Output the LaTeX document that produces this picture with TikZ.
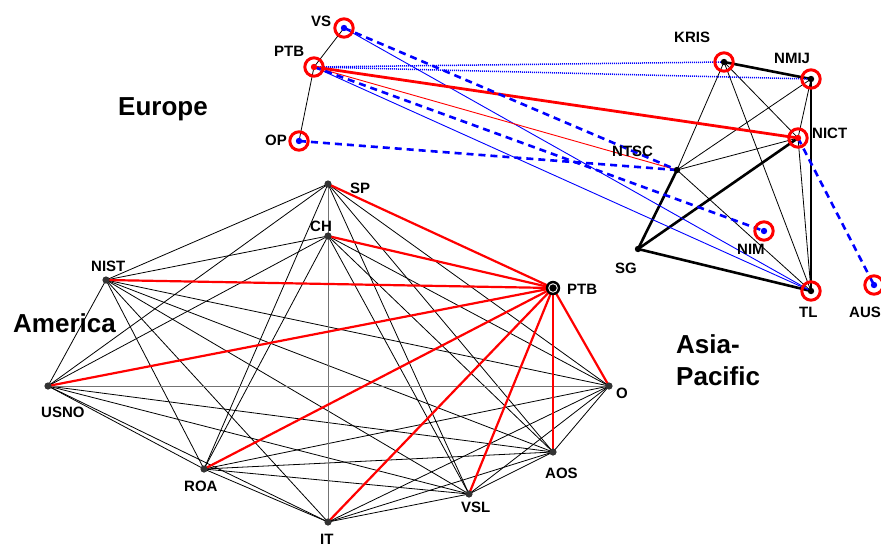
\documentclass[tikz,border=0pt]{standalone}
\usepackage{fontspec}
\setmainfont{Liberation Sans}
\newcommand\lblfont{\fontsize{15}{15}\selectfont\bfseries}
\newcommand\bigfont{\fontsize{26}{32}\selectfont\bfseries}
\begin{document}
\begin{tikzpicture}[x=1pt,y=-1pt,
  thinblack/.style={black,line width=0.8pt},
  thickblack/.style={black,line width=2.6pt},
  thinred/.style={red,line width=0.9pt},
  thickred/.style={red,line width=2.8pt},
  redline/.style={red,line width=2.2pt},
  thinblue/.style={blue,line width=0.9pt},
  dottedblue/.style={blue,line width=1.5pt,dash pattern=on 1pt off 1pt},
  dashedblue/.style={blue,line width=2.6pt,dash pattern=on 7pt off 5pt},
  ring/.style={red,line width=3pt},
  lbl/.style={anchor=base west,inner sep=0pt,font=\lblfont},
  biglbl/.style={anchor=base west,inner sep=0pt,font=\bigfont,align=left}]
\useasboundingbox (0,0) rectangle (881,547);
\fill[white] (0,0) rectangle (881,547);
% ---------- top (Europe / Asia-Pacific) coordinates
\coordinate (eVS) at (344,28);
\coordinate (ePTB) at (314,67);
\coordinate (eOP) at (299,141);
\coordinate (KRIS) at (724,62);
\coordinate (NMIJ) at (811,79);
\coordinate (NICT) at (798,138);
\coordinate (NTSC) at (677,170);
\coordinate (SG) at (638,249);
\coordinate (TL) at (811,291);
\coordinate (NIM) at (764,231);
\coordinate (AUS) at (874,285);
% ---------- bottom coordinates
\coordinate (aSP) at (328,184);
\coordinate (aCH) at (328,236);
\coordinate (aNIST) at (106,280);
\coordinate (aPTB) at (553,288);
\coordinate (aUSNO) at (48,386);
\coordinate (aO) at (609,386);
\coordinate (aROA) at (204,469);
\coordinate (aIT) at (328,522);
\coordinate (aVSL) at (469,494);
\coordinate (aAOS) at (553,452);
% ---------- bottom edges
\foreach \a [count=\i] in {SP,CH,NIST,USNO,ROA,IT,VSL,AOS,O} {
  \foreach \b [count=\j] in {SP,CH,NIST,USNO,ROA,IT,VSL,AOS,O} {
    \ifnum\j>\i \draw[thinblack] (a\a) -- (a\b); \fi
  }
}
\draw[black!55,line width=1pt] (aUSNO) -- (aO);
\draw[black!55,line width=1pt] (aSP) -- (aIT);
\foreach \b in {SP,CH,NIST,USNO,ROA,IT,VSL,AOS,O}
  \draw[redline] (aPTB) -- (a\b);
% ---------- top edges
\draw[thinblack] (eVS) -- (ePTB) -- (eOP);
\foreach \p/\q in {KRIS/NTSC,KRIS/NICT,KRIS/TL,NMIJ/NTSC,NMIJ/NICT,NTSC/NICT,NTSC/TL,NICT/TL}
  \draw[thinblack] (\p) -- (\q);
\foreach \p/\q in {KRIS/NMIJ,NMIJ/TL,SG/NTSC,SG/NICT,SG/TL}
  \draw[thickblack,line cap=round] (\p) -- (\q);
\draw[dottedblue] (ePTB) -- (KRIS);
\draw[dottedblue] (ePTB) -- (NMIJ);
\draw[thinblue] (eVS) -- (TL);
\draw[thinblue] (ePTB) -- (TL);
\draw[thinred] (ePTB) -- (NTSC);
\draw[thickred] (ePTB) -- (NICT);
\draw[dashedblue] (eVS) -- (NTSC);
\draw[dashedblue] (eOP) -- (NTSC);
\draw[dashedblue] (ePTB) -- (NIM);
\draw[dashedblue] (NICT) -- (AUS);
% ---------- rings and dots
\foreach \n in {eVS,ePTB,eOP,KRIS,NMIJ,NICT,NIM,TL,AUS}
  \draw[ring] (\n) circle (9.2);
\foreach \n in {eVS,eOP,NIM,AUS}
  \fill[blue] (\n) circle (3.2);
\foreach \n in {ePTB,NICT}
  \fill[red] (\n) circle (3.2);
\foreach \n in {KRIS,NMIJ,NTSC,SG,TL}
  \fill[black] (\n) circle (3.2);
\foreach \n in {aSP,aCH,aNIST,aUSNO,aO,aROA,aIT,aVSL,aAOS}
  \fill[black!80] (\n) circle (3.6);
\fill[black] (aPTB) circle (7.2);
\draw[white,line width=0.9pt] (aPTB) circle (4.3);
% ---------- labels
\node[lbl] (lVS) at (311,26) {VS};
\node[lbl] (lPTBe) at (274,56) {PTB};
\node[lbl] (lOP) at (265,145) {OP};
\node[lbl] (lKRIS) at (674,42) {KRIS};
\node[lbl] (lNMIJ) at (774,63) {NMIJ};
\node[lbl] (lNICT) at (812,138) {NICT};
\node[lbl] (lNTSC) at (612,156) {NTSC};
\node[lbl] (lNIM) at (737,254) {NIM};
\node[lbl] (lSG) at (615,273) {SG};
\node[lbl] (lTL) at (799,317) {TL};
\node[lbl] (lAUS) at (849,317) {AUS};
\node[lbl] (lSP) at (350,193) {SP};
\node[lbl] (lCH) at (310,231) {CH};
\node[lbl] (lNIST) at (91,271) {NIST};
\node[lbl] (lPTBa) at (567,294) {PTB};
\node[lbl] (lUSNO) at (41,417) {USNO};
\node[lbl] (lO) at (616,398) {O};
\node[lbl] (lROA) at (184,491) {ROA};
\node[lbl] (lIT) at (320,544) {IT};
\node[lbl] (lVSL) at (461,512) {VSL};
\node[lbl] (lAOS) at (545,478) {AOS};
\node[biglbl] (gEurope) at (118,115) {Europe};
\node[biglbl] (gAmerica) at (13,332) {America};
\node[biglbl] (gAsia) at (676,353) {Asia-};
\node[biglbl] (gPacific) at (676,385) {Pacific};
\end{tikzpicture}
\end{document}
